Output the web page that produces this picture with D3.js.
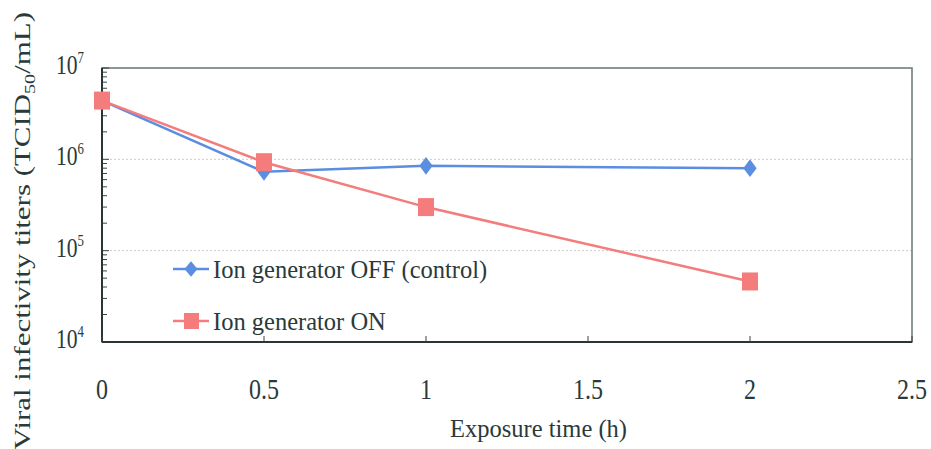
<!DOCTYPE html>
<html lang="en">
<head>
<meta charset="UTF-8">
<title>Viral infectivity</title>
<style>
body { margin: 0; background: #fff; }
text { font-family: "Liberation Serif", "DejaVu Serif", serif; fill: #2a3a3a; }
</style>
</head>
<body>
<script src="https://cdn.jsdelivr.net/npm/d3@7"></script>
<script>
var times = [0, 0.5, 1, 2];
var offValues = [4.4e6, 7.3e5, 8.5e5, 8.0e5];
var onValues = [4.4e6, 9.3e5, 3.0e5, 4.6e4];
var seriesNames = ['Ion generator OFF (control)', 'Ion generator ON'];
var xTicks = [0, 0.5, 1, 1.5, 2, 2.5];
var yExps = [4, 5, 6, 7];

var W = 931, H = 449;
var plotL = 102, plotR = 912, plotT = 68, plotB = 342;

var svg = d3.select('body').append('svg')
    .attr('width', W)
    .attr('height', H);

var x = d3.scaleLinear().domain([0, 2.5]).range([plotL, plotR]);
var y = d3.scaleLog().domain([1e4, 1e7]).range([plotB, plotT]);

// grid lines at 10^5, 10^6
svg.selectAll('.grid')
    .data([1e5, 1e6])
    .enter().append('line')
    .attr('x1', plotL).attr('x2', plotR)
    .attr('y1', function(d) { return y(d); })
    .attr('y2', function(d) { return y(d); })
    .attr('stroke', '#c8cccc')
    .attr('stroke-dasharray', '2,2')
    .attr('stroke-width', 1);

// frame
svg.append('rect')
    .attr('x', plotL).attr('y', plotT)
    .attr('width', plotR - plotL).attr('height', plotB - plotT)
    .attr('fill', 'none')
    .attr('stroke', '#6a7575')
    .attr('stroke-width', 1.5);

// left axis ticks (minor log ticks, inside)
var minor = [];
for (var e = 4; e < 7; e++) {
    for (var m = 1; m < 10; m++) minor.push(m * Math.pow(10, e));
}
minor.push(1e7);
svg.selectAll('.ytick')
    .data(minor)
    .enter().append('line')
    .attr('x1', plotL)
    .attr('x2', function(d) { return plotL + (Math.abs(Math.log10(d) % 1) < 1e-9 ? 7 : 5); })
    .attr('y1', function(d) { return y(d); })
    .attr('y2', function(d) { return y(d); })
    .attr('stroke', '#3a4545')
    .attr('stroke-width', 1);
svg.append('line')
    .attr('x1', plotL).attr('x2', plotL)
    .attr('y1', plotT).attr('y2', plotB)
    .attr('stroke', '#2c3535').attr('stroke-width', 2);

// bottom axis ticks (inside)
svg.append('line')
    .attr('x1', plotL).attr('x2', plotR)
    .attr('y1', plotB).attr('y2', plotB)
    .attr('stroke', '#2c3535').attr('stroke-width', 2);
svg.selectAll('.xtick')
    .data(xTicks)
    .enter().append('line')
    .attr('x1', function(d) { return x(d); })
    .attr('x2', function(d) { return x(d); })
    .attr('y1', plotB).attr('y2', plotB - 6)
    .attr('stroke', '#3a4545');

// x tick labels (condensed)
svg.selectAll('.xlab')
    .data(xTicks)
    .enter().append('text')
    .attr('transform', function(d) { return 'translate(' + x(d) + ',399) scale(0.8,1)'; })
    .attr('text-anchor', 'middle')
    .attr('font-size', 30)
    .text(function(d) { return d; });

// y tick labels
var ylab = svg.selectAll('.ylab')
    .data(yExps)
    .enter().append('text')
    .attr('transform', function(d) { return 'translate(84,' + (y(Math.pow(10, d)) + 6) + ') scale(0.8,1)'; })
    .attr('text-anchor', 'end')
    .attr('font-size', 27);
ylab.append('tspan').text('10');
ylab.append('tspan')
    .attr('font-size', 16)
    .attr('dy', -11)
    .text(function(d) { return d; });

// axis titles
svg.append('text')
    .attr('x', 450).attr('y', 437)
    .attr('font-size', 26)
    .attr('textLength', 177)
    .attr('lengthAdjust', 'spacingAndGlyphs')
    .text('Exposure time (h)');

var yt = svg.append('text')
    .attr('transform', 'translate(30,450) rotate(-90)')
    .attr('font-size', 23)
    .attr('textLength', 438)
    .attr('lengthAdjust', 'spacingAndGlyphs');
yt.append('tspan').text('Viral infectivity titers (TCID');
yt.append('tspan').attr('font-size', 15).attr('dy', 5).text('50');
yt.append('tspan').attr('dy', -5).text('/mL)');

var blue = '#5b8de0', red = '#f47c7c';
var line = d3.line()
    .x(function(d) { return x(d[0]); })
    .y(function(d) { return y(d[1]); });

var offData = times.map(function(t, i) { return [t, offValues[i]]; });
var onData = times.map(function(t, i) { return [t, onValues[i]]; });

svg.append('path').datum(offData)
    .attr('d', line).attr('fill', 'none')
    .attr('stroke', blue).attr('stroke-width', 2.5);
svg.append('path').datum(onData)
    .attr('d', line).attr('fill', 'none')
    .attr('stroke', red).attr('stroke-width', 2.5);

var diamond = d3.symbol().type(d3.symbolDiamond2).size(200);
svg.selectAll('.offpt')
    .data(offData)
    .enter().append('path')
    .attr('d', diamond)
    .attr('transform', function(d) { return 'translate(' + x(d[0]) + ',' + y(d[1]) + ') scale(0.75,1)'; })
    .attr('fill', blue);

svg.selectAll('.onpt')
    .data(onData)
    .enter().append('rect')
    .attr('x', function(d) { return x(d[0]) - 8; })
    .attr('y', function(d) { return y(d[1]) - 9; })
    .attr('width', 16).attr('height', 18)
    .attr('fill', red);

// legend
var legend = svg.selectAll('.leg')
    .data(seriesNames)
    .enter().append('g')
    .attr('transform', function(d, i) { return 'translate(173,' + (269 + i * 52) + ')'; });
legend.append('line')
    .attr('x1', 0).attr('x2', 36)
    .attr('stroke', function(d, i) { return i ? red : blue; })
    .attr('stroke-width', 2.5);
legend.each(function(d, i) {
    var g = d3.select(this);
    if (i === 0) {
        g.append('path').attr('d', d3.symbol().type(d3.symbolDiamond2).size(150))
            .attr('transform', 'translate(18,0) scale(0.85,1)')
            .attr('fill', blue);
    } else {
        g.append('rect').attr('x', 11).attr('y', -8).attr('width', 15).attr('height', 16)
            .attr('fill', red);
    }
});
legend.append('text')
    .attr('x', 40).attr('y', 9)
    .attr('font-size', 24.5)
    .text(function(d) { return d; });
</script>
</body>
</html>
